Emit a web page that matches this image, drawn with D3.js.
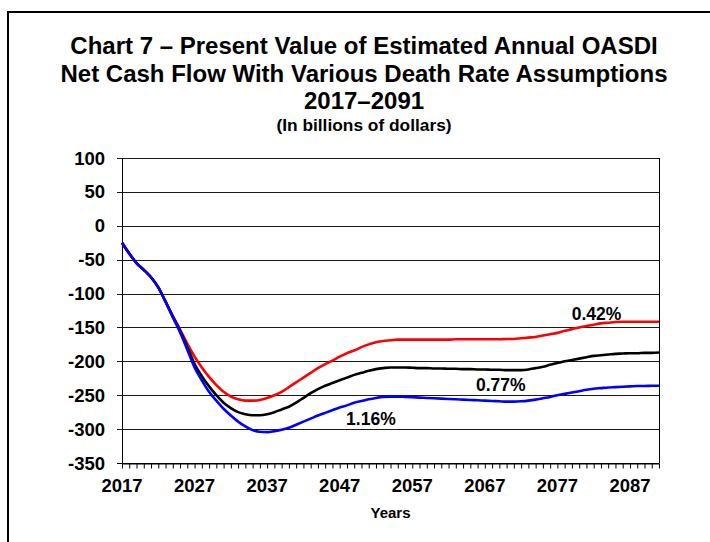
<!DOCTYPE html>
<html><head><meta charset="utf-8">
<script src="https://cdn.jsdelivr.net/npm/d3@7"></script>
<style>
body{margin:0;background:#fff}
svg{display:block}
text{font-family:"Liberation Sans",Arial,Helvetica,sans-serif;font-weight:bold;fill:#000}
</style>
</head><body>
<svg id="chart" width="710" height="542"></svg>
<script>
// ---------------- data ----------------
const years = d3.range(2017, 2092); // 2017..2091

const rate042 = [-25,-41,-55,-65,-76,-91,-112,-133,-153,-174,
 -193,-209,-223,-235,-245,-252,-256,-258,-258,-257,
 -254,-250,-245,-238,-231,-224,-217,-210,-204,-199,
 -193,-188,-184,-179,-175,-172,-170,-169,-168,-168,
 -168,-168,-168,-168,-168,-168,-167.5,-167.5,-167.5,-167.5,
 -167.5,-167.5,-167.5,-167,-167,-166,-165,-164,-162,-160,
 -158,-155,-152.5,-150,-148,-146,-144,-143,-142,-141.5,
 -141.5,-141.5,-141.5,-141.5,-141.5];

const rate077 = [-25,-41,-55,-65,-76,-91,-112,-134,-155,-179,
 -204,-222,-237,-250,-261,-269,-275,-278,-279.5,-279.5,
 -278,-275,-271,-267,-261,-254,-247,-241,-236,-232,
 -228,-224,-220,-217,-214,-211.5,-210,-209,-209,-209,
 -209.5,-210,-210,-210.5,-210.5,-211,-211,-211.5,-211.5,-212,
 -212,-212.5,-212.5,-213,-213,-213,-212,-210,-208,-205,
 -202.5,-200,-198,-196,-194,-192,-191,-190,-189,-188.5,
 -188,-188,-187.5,-187.5,-187];

const rate116 = [-25,-41,-55,-65,-76,-91,-112,-135,-157,-183,
 -209,-228,-245,-258,-270,-280,-289,-296,-301.5,-304,
 -304.5,-303,-301,-298,-293.5,-289,-284.5,-280,-276,-272,
 -268,-265,-261,-258.5,-256,-254,-252.5,-252,-252,-252.5,
 -253,-253.5,-254,-254.5,-255,-255.5,-256,-256.5,-257,-257.5,
 -258,-258.5,-259,-259.5,-259.5,-259,-258,-256.5,-254.5,-252.5,
 -250,-248,-246,-244,-242,-240.5,-239.5,-238.5,-238,-237.5,
 -237,-236.5,-236.5,-236,-236];

const seriesNames = ["0.42%", "0.77%", "1.16%"];
const seriesColors = ["#ff0000", "#000000", "#0000ff"];
// label anchor (year, value) for each series annotation
const labelYears = [2082.4, 2069.2, 2051.3];
const labelValues = [-137.5, -242.5, -292.5];

const yTicks = [100, 50, 0, -50, -100, -150, -200, -250, -300, -350];
const xLabelYears = [2017, 2027, 2037, 2047, 2057, 2067, 2077, 2087];

const titleLines = ["Chart 7 \u2013 Present Value of Estimated Annual OASDI",
                    "Net Cash Flow With Various Death Rate Assumptions",
                    "2017\u20132091"];
const subtitle = "(In billions of dollars)";
const xTitle = "Years";

// ---------------- layout ----------------
const plot = {left: 122, right: 659, top: 158, bottom: 463};

const svg = d3.select("#chart");

const x = d3.scaleLinear().domain([2017, 2091]).range([plot.left, plot.right]);
const y = d3.scaleLinear().domain([-350, 100]).range([plot.bottom, plot.top]);

function sText(parent, tx, ty, txt, size, anchor, sx) {
  parent.append("g")
    .attr("transform", `translate(${tx},${ty}) scale(${sx || 1},1)`)
    .append("text")
    .attr("text-anchor", anchor || "middle")
    .style("font-size", size + "px")
    .text(txt);
}

// outer frame (open at right/bottom, as cropped in the original)
svg.append("path")
  .attr("d", "M8,545V12H712")
  .attr("fill", "none").attr("stroke", "#000").attr("stroke-width", 2);

// titles
const tcx = 364;
const tBase = [54, 81.5, 109];
titleLines.forEach((t, i) => sText(svg, tcx, tBase[i], t, 24.5, "middle", 0.98));
sText(svg, tcx, 131, subtitle, 17, "middle", 1.02);

// grid lines
svg.append("g").selectAll("line").data(yTicks).join("line")
  .attr("x1", plot.left - 5).attr("x2", plot.right)
  .attr("y1", d => Math.round(y(d)) + 0.5).attr("y2", d => Math.round(y(d)) + 0.5)
  .attr("stroke", d => d === -350 ? "#000" : "#1a1a1a").attr("stroke-width", 1);

// right border of plot
svg.append("line")
  .attr("x1", plot.right + 0.5).attr("x2", plot.right + 0.5)
  .attr("y1", plot.top).attr("y2", plot.bottom)
  .attr("stroke", "#000").attr("stroke-width", 1);

// x axis with yearly ticks
const xAxis = d3.axisBottom(x).tickValues(years).tickSize(5).tickSizeOuter(0).tickFormat(() => "");
const gx = svg.append("g").attr("transform", `translate(0,${Math.round(y(-350)) + 0.5})`).call(xAxis);
gx.select(".domain").attr("stroke", "#000");
gx.selectAll(".tick line").attr("stroke", "#000");

// y axis line
svg.append("line")
  .attr("x1", plot.left + 0.5).attr("x2", plot.left + 0.5)
  .attr("y1", plot.top).attr("y2", plot.bottom + 1)
  .attr("stroke", "#000").attr("stroke-width", 1);

// tick labels
yTicks.forEach(v => sText(svg, 105, y(v) + 6.5, String(v), 18.5, "end", 1));
xLabelYears.forEach(yr => sText(svg, x(yr), 492, String(yr), 18.5, "middle", 1));
sText(svg, (plot.left + plot.right) / 2, 518, xTitle, 15, "middle", 1);

// lines
const line = d3.line().x((d, i) => x(years[i])).y(d => y(d)).curve(d3.curveMonotoneX);
[rate042, rate077, rate116].forEach((s, i) => {
  svg.append("path").datum(s)
    .attr("d", line)
    .attr("fill", "none")
    .attr("stroke", seriesColors[i])
    .attr("stroke-width", 2.6)
    .attr("stroke-linejoin", "round");
});

// annotations
seriesNames.forEach((n, i) => sText(svg, x(labelYears[i]), y(labelValues[i]) + 1, n, 17.5, "middle", 1));
</script>
</body></html>
